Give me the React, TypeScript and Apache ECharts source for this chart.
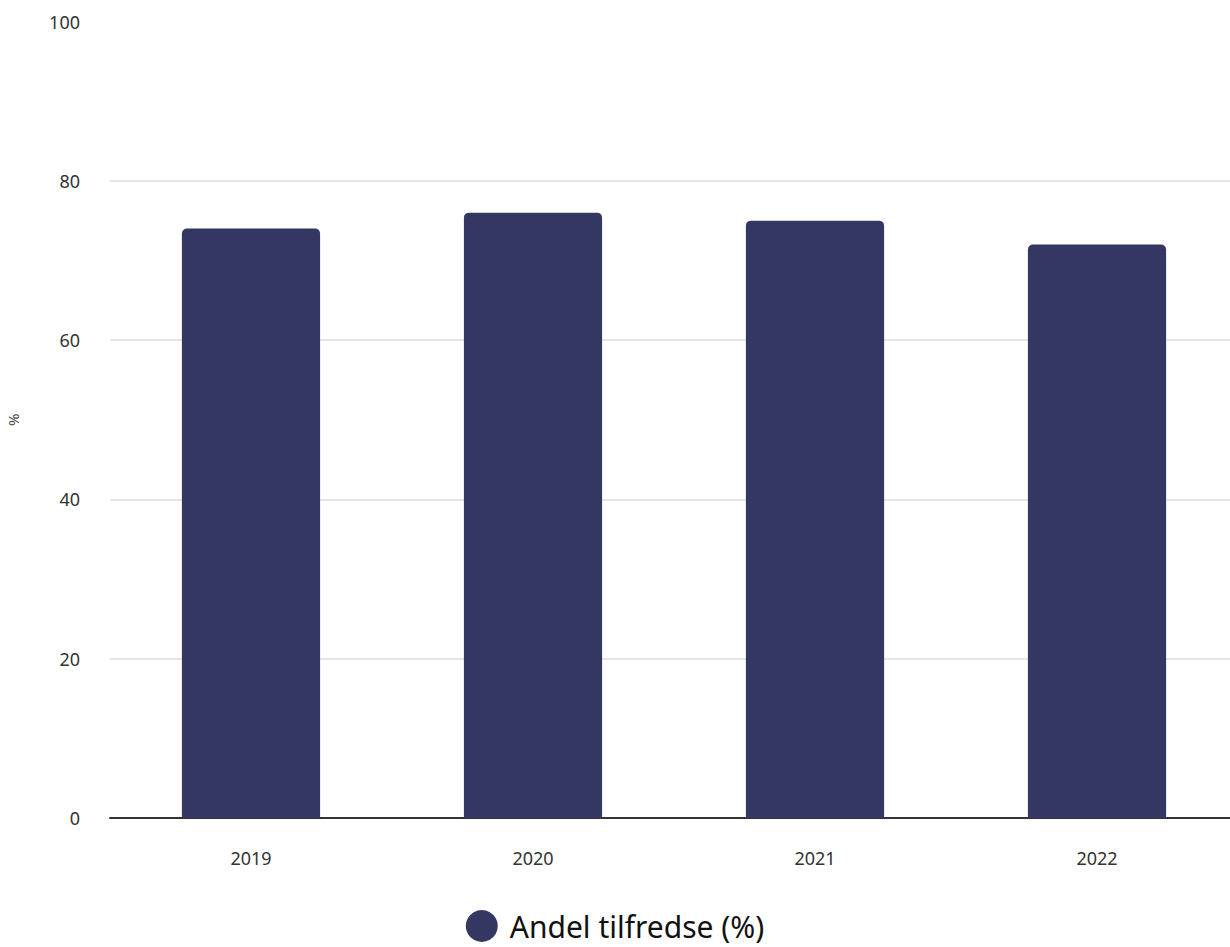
import React, { useEffect, useRef } from "react";
import * as echarts from "echarts";

const categories = ["2019", "2020", "2021", "2022"];
const values = [74, 76, 75, 72];
const seriesName = "Andel tilfredse (%)";
const yAxisName = "%";

export default function App() {
  const ref = useRef<HTMLDivElement>(null);
  useEffect(() => {
    document.body.style.margin = "0";
    const chart = echarts.init(ref.current!, null, { renderer: "svg" });
    chart.setOption({
      animation: false,
      textStyle: { fontFamily: "Noto Sans" },
      grid: { left: 110, width: 1128, top: 21.5, height: 796.5, outerBoundsMode: "none", containLabel: false },
      legend: {
        top: 910,
        left: "center",
        padding: 0,
        icon: "circle",
        itemWidth: 32,
        itemHeight: 32,
        itemGap: 10,
        textStyle: { fontSize: 30, lineHeight: 32, color: "#111", fontFamily: "Noto Sans", padding: [0, 0, 0, 7] },
        data: [seriesName],
      },
      xAxis: {
        type: "category",
        data: categories,
        axisLine: { lineStyle: { color: "#333", width: 2 } },
        axisTick: { show: false },
        axisLabel: { fontSize: 18, color: "#333", margin: 31 },
      },
      yAxis: {
        type: "value",
        min: 0,
        max: 100,
        interval: 20,
        name: yAxisName,
        nameLocation: "middle",
        nameGap: 90,
        nameTextStyle: { fontSize: 15, color: "#444" },
        axisLabel: { fontSize: 18, color: "#333", margin: 30 },
        splitLine: {
          lineStyle: {
            color: ["#e6e6e6", "#e6e6e6", "#e6e6e6", "#e6e6e6", "#e6e6e6", "rgba(0,0,0,0)"],
            width: 2,
          },
        },
      },
      series: [
        {
          name: seriesName,
          type: "bar",
          data: values,
          barWidth: "49%",
          itemStyle: { color: "#333762", borderRadius: [5, 5, 0, 0] },
        },
      ],
    });
    return () => chart.dispose();
  }, []);
  return <div ref={ref} style={{ width: 1230, height: 947, overflow: "hidden" }} />;
}
